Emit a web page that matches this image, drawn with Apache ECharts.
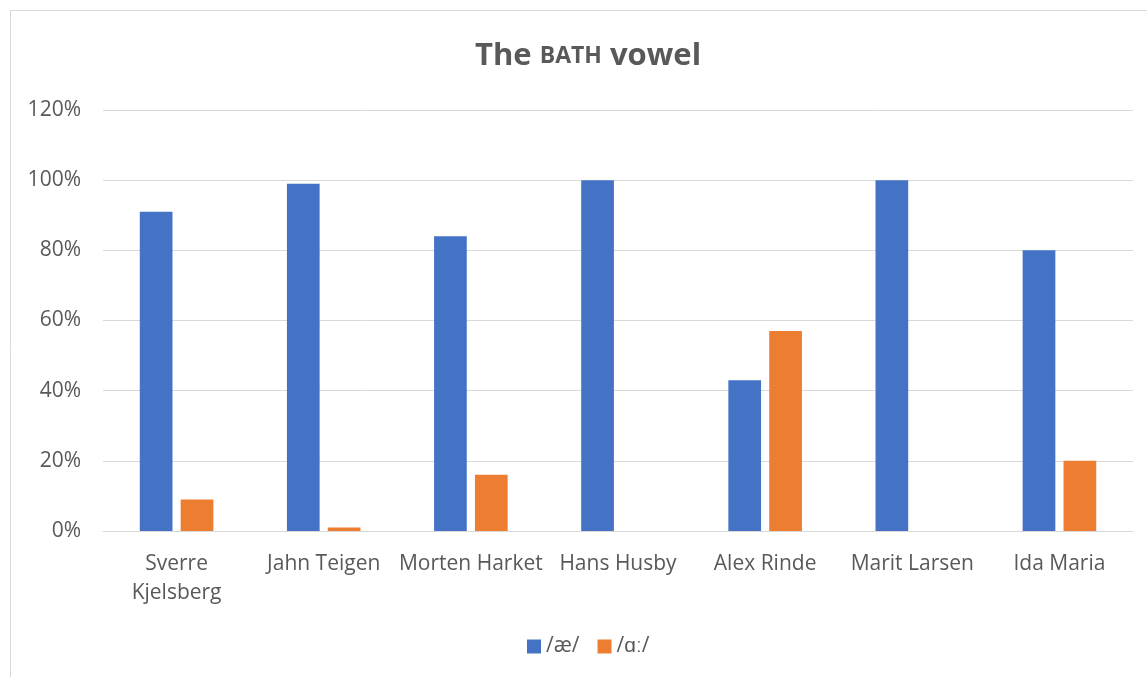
<!DOCTYPE html>
<html><head><meta charset="utf-8">
<script src="https://cdn.jsdelivr.net/npm/echarts@6/dist/echarts.min.js"></script>
<style>html,body{margin:0;padding:0;background:#fff}#c{width:1147px;height:677px}</style>
</head><body><div id="c"></div>
<script>
const categories = ['Sverre\nKjelsberg','Jahn Teigen','Morten Harket','Hans Husby','Alex Rinde','Marit Larsen','Ida Maria'];
const seriesNames = ['/æ/','/ɑː/'];
const ae = [91,99,84,100,43,100,80];
const aa = [9,1,16,0,57,0,20];
const yTicks = {min:0,max:120,interval:20};
const font = '"Open Sans", "Liberation Sans", sans-serif';
const chart = echarts.init(document.getElementById('c'));
chart.setOption({
  animation:false,
  backgroundColor:'#fff',
  graphic:[{type:'rect',shape:{x:10.5,y:10.5,width:1150,height:700},style:{fill:'none',stroke:'#d9d9d9',lineWidth:1},silent:true}],
  title:{
    text:'{a|The }{b|BATH}{a| vowel}',
    left:470, top:36,
    textStyle:{rich:{
      a:{fontSize:31,fontWeight:'bold',color:'#595959',fontFamily:font},
      b:{fontSize:23,fontWeight:'bold',color:'#595959',fontFamily:font}
    }}
  },
  legend:{
    bottom:15, left:522, itemWidth:14, itemHeight:14, itemGap:18,
    icon:'rect',
    textStyle:{fontSize:21,color:'#595959',fontFamily:font},
    data:seriesNames
  },
  grid:{left:103,right:14,top:110,bottom:146},
  xAxis:{
    type:'category', data:categories,
    axisLine:{lineStyle:{color:'#d9d9d9',width:1}},
    axisTick:{show:false},
    axisLabel:{fontSize:21,color:'#595959',fontFamily:font,margin:19,lineHeight:29,interval:0}
  },
  yAxis:{
    type:'value', min:yTicks.min, max:yTicks.max, interval:yTicks.interval,
    axisLabel:{formatter:'{value}%',fontSize:21,color:'#595959',fontFamily:font,margin:22},
    splitLine:{lineStyle:{color:'#d9d9d9',width:1}},
    axisLine:{show:false}, axisTick:{show:false}
  },
  series:[
    {name:seriesNames[0],type:'bar',data:ae,itemStyle:{color:'#4472C4'},barGap:'25%',barCategoryGap:'50%'},
    {name:seriesNames[1],type:'bar',data:aa,itemStyle:{color:'#ED7D31'},barGap:'25%',barCategoryGap:'50%'}
  ]
});
</script></body></html>
